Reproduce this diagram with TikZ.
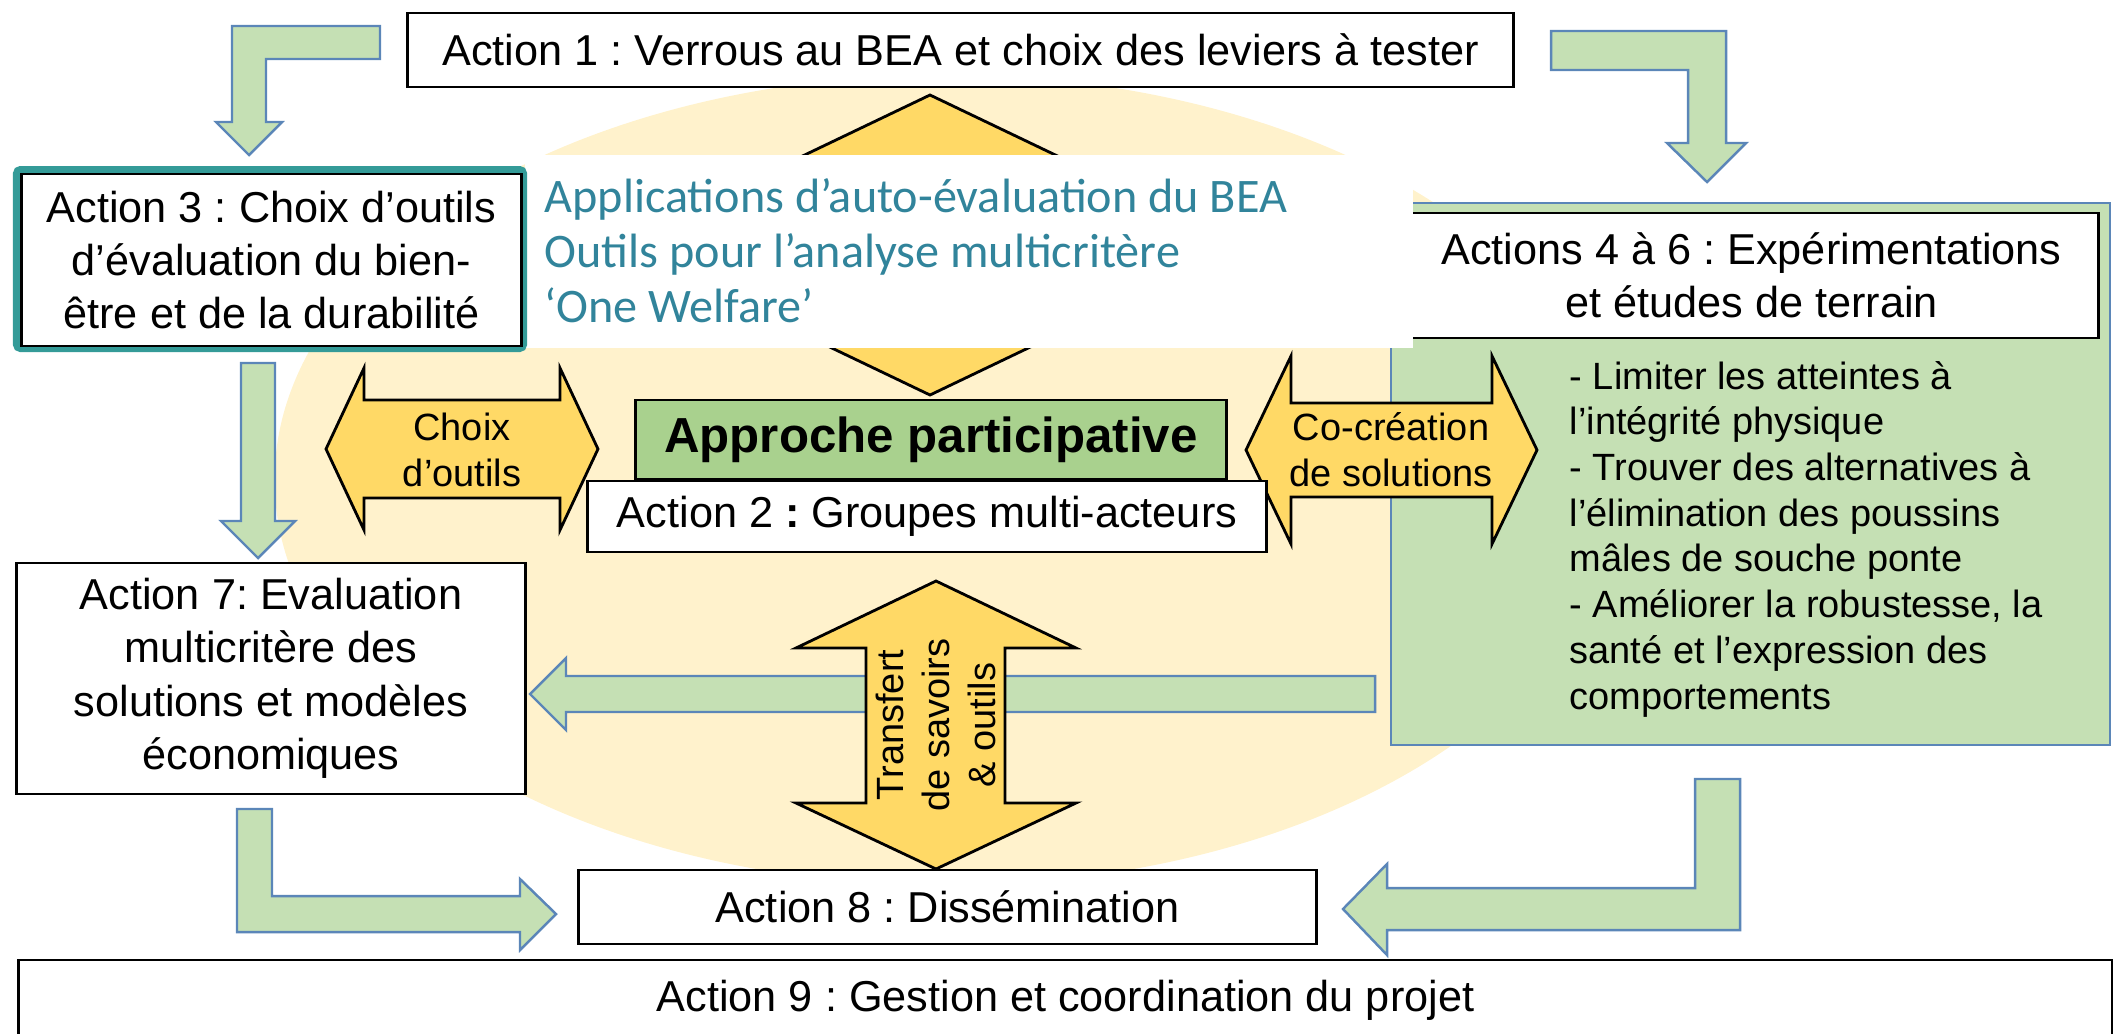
\documentclass[tikz,border=0pt]{standalone}
\usepackage{fontspec}
\setmainfont{Liberation Sans}
\newfontfamily\calibrifont{Carlito}
\frenchspacing

\definecolor{sunyellow}{HTML}{FFD966}
\definecolor{paleyellow}{HTML}{FFF2CC}
\definecolor{leafgreen}{HTML}{C5E0B4}
\definecolor{grassgreen}{HTML}{A9D18E}
\definecolor{steelblue}{HTML}{5B86B8}
\definecolor{tealframe}{HTML}{349B98}
\definecolor{tealtext}{HTML}{31849B}

\tikzset{
    actionbox/.style = {draw, fill=white, line width=0.8pt, inner sep=0pt, align=center,
                        font=\fontsize{12.3}{15.2}\selectfont},
    bendarrow/.style = {fill=leafgreen, draw=steelblue, line width=0.7pt},
    sunarrow/.style  = {fill=sunyellow, draw=black, line width=0.8pt},
    smalltext/.style = {font=\fontsize{10.8}{13}\selectfont, align=center, inner sep=0pt}
}

\begin{document}
\begin{tikzpicture}[x=0.01cm, y=-0.01cm]
    \useasboundingbox (0,0) rectangle (2113,1033);
    \clip (0,0) rectangle (2113,1033);

    % fond
    \fill[paleyellow] (945,480) ellipse [x radius=6.7cm, y radius=4.05cm];

    % fleche Action 1 <-> approche (en partie cachee)
    \draw[sunarrow] (930,95) -- (1070,162) -- (1000,162) -- (1000,328) -- (1070,328) -- (930,395)
        -- (790,328) -- (860,328) -- (860,162) -- (790,162) -- cycle;

    % fleches vertes du haut
    \draw[bendarrow] (380,26) -- (232,26) -- (232,122) -- (216,122) -- (249,155) -- (282,122)
        -- (266,122) -- (266,59) -- (380,59) -- cycle;
    \draw[bendarrow] (1551,31) -- (1726,31) -- (1726,143) -- (1746,143) -- (1707,182) -- (1667,143)
        -- (1688,143) -- (1688,70) -- (1551,70) -- cycle;
    \draw[bendarrow] (241,363) -- (275,363) -- (275,521) -- (295,521) -- (258,558) -- (221,521)
        -- (241,521) -- cycle;

    \node[actionbox, minimum width=11.05cm, minimum height=0.74cm] (act1) at (960.5,50)
        {Action 1 : Verrous au BEA et choix des leviers à tester};

    % experimentations
    \node[draw=steelblue, fill=leafgreen, line width=0.7pt, minimum width=7.19cm, minimum height=5.42cm] (expzone) at (1750.5,474) {};
    \node[actionbox, minimum width=6.93cm, minimum height=1.25cm] (act46) at (1751.5,275.5)
        {Actions 4 à 6 : Expérimentations\\et études de terrain};
    \node[smalltext, align=left, anchor=west] (levers) at (1569,539)
        {- Limiter les atteintes à\\l’intégrité physique\\- Trouver des alternatives à\\l’élimination des poussins\\mâles de souche ponte\\- Améliorer la robustesse, la\\santé et l’expression des\\comportements};

    % outils
    \node[fill=white, inner sep=0pt, minimum width=8.88cm, minimum height=1.93cm] (toolsbg) at (969,251.5) {};
    \node[anchor=west, align=left, inner sep=0pt, text=tealtext,
          font=\calibrifont\fontsize{13.7}{15.65}\selectfont] (tools) at (544,251)
        {Applications d’auto-évaluation du BEA\\Outils pour l’analyse multicritère\\‘One Welfare’};

    \draw[tealframe, line width=0.08cm, rounded corners=1pt] (17,170) rectangle (523,348);
    \node[actionbox, minimum width=4.99cm, minimum height=1.72cm] (act3) at (271.5,260)
        {Action 3 : Choix d’outils\\d’évaluation du bien-\\être et de la durabilité};

    % fleches jaunes
    \draw[sunarrow] (326,449) -- (364,368) -- (364,400) -- (560,400) -- (560,368) -- (598,449)
        -- (560,530) -- (560,498) -- (364,498) -- (364,530) -- cycle;
    \node[smalltext] (choice) at (462,450) {Choix\\d’outils};
    \draw[sunarrow] (1246,450) -- (1291,356) -- (1291,403) -- (1492,403) -- (1492,356) -- (1537,450)
        -- (1492,544) -- (1492,497) -- (1291,497) -- (1291,544) -- cycle;
    \node[smalltext] (cocreate) at (1391,450) {Co-création\\de solutions};

    \node[draw, fill=grassgreen, line width=0.8pt, minimum width=5.9cm, minimum height=0.79cm,
          font=\bfseries\fontsize{14}{16}\selectfont] (approach) at (931,439.5) {Approche participative};
    \node[actionbox, minimum width=6.78cm, minimum height=0.71cm] (act2) at (927,516.5)
        {Action 2 \textbf{:} Groupes multi-acteurs};

    % retour vers action 7 et transfert
    \draw[bendarrow] (1375,676) -- (566,676) -- (566,658) -- (530,694) -- (566,730) -- (566,712)
        -- (1375,712) -- cycle;
    \draw[sunarrow] (936,581) -- (1076,648) -- (1005,648) -- (1005,803) -- (1076,803) -- (936,869)
        -- (796,803) -- (866,803) -- (866,648) -- (796,648) -- cycle;
    \node[smalltext, rotate=90] (transfer) at (936,725) {Transfert\\de savoirs\\\& outils};

    \node[actionbox, minimum width=5.08cm, minimum height=2.31cm] (act7) at (271,678.5)
        {Action 7: Evaluation\\multicritère des\\solutions et modèles\\économiques};
    \node[actionbox, minimum width=7.37cm, minimum height=0.74cm] (act8) at (947.5,907)
        {Action 8 : Dissémination};
    \node[actionbox, minimum width=20.93cm, minimum height=0.8cm] (act9) at (1065.5,1000)
        {Action 9 : Gestion et coordination du projet};

    % fleches vertes du bas
    \draw[bendarrow] (237,809) -- (272,809) -- (272,896) -- (520,896) -- (520,879) -- (556,914)
        -- (520,950) -- (520,932) -- (237,932) -- cycle;
    \draw[bendarrow] (1740,779) -- (1695,779) -- (1695,888) -- (1387,888) -- (1387,864) -- (1343,909)
        -- (1387,955) -- (1387,930) -- (1740,930) -- cycle;
\end{tikzpicture}
\end{document}
